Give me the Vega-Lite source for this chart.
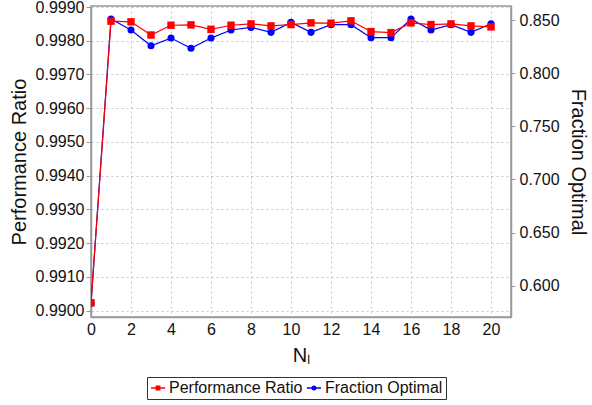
{
  "$schema": "https://vega.github.io/schema/vega-lite/v6.json",
  "width": 420,
  "height": 311,
  "autosize": {"type": "none"},
  "padding": {"left": 91, "top": 6, "right": 81, "bottom": 88},
  "background": "white",
  "config": {
    "font": "Liberation Sans",
    "view": {"stroke": "#999999", "strokeWidth": 1.5},
    "axis": {
      "labelFont": "Liberation Sans",
      "titleFont": "Liberation Sans",
      "labelFontSize": 16,
      "titleFontSize": 20,
      "titleFontWeight": "normal",
      "labelColor": "#111111",
      "titleColor": "#111111",
      "domainColor": "#999999",
      "domainWidth": 1.5,
      "tickColor": "#999999",
      "gridColor": "#c4c4c4",
      "gridDash": [2, 3],
      "gridWidth": 1
    }
  },
  "datasets": {
    "pts": [
      {"N": 0, "series": "Performance Ratio", "value": 0.99023},
      {"N": 1, "series": "Performance Ratio", "value": 0.99858},
      {"N": 2, "series": "Performance Ratio", "value": 0.99856},
      {"N": 3, "series": "Performance Ratio", "value": 0.99817},
      {"N": 4, "series": "Performance Ratio", "value": 0.99846},
      {"N": 5, "series": "Performance Ratio", "value": 0.99847},
      {"N": 6, "series": "Performance Ratio", "value": 0.99834},
      {"N": 7, "series": "Performance Ratio", "value": 0.99846},
      {"N": 8, "series": "Performance Ratio", "value": 0.9985},
      {"N": 9, "series": "Performance Ratio", "value": 0.99844},
      {"N": 10, "series": "Performance Ratio", "value": 0.99848},
      {"N": 11, "series": "Performance Ratio", "value": 0.99853},
      {"N": 12, "series": "Performance Ratio", "value": 0.99852},
      {"N": 13, "series": "Performance Ratio", "value": 0.99859},
      {"N": 14, "series": "Performance Ratio", "value": 0.99827},
      {"N": 15, "series": "Performance Ratio", "value": 0.99824},
      {"N": 16, "series": "Performance Ratio", "value": 0.99853},
      {"N": 17, "series": "Performance Ratio", "value": 0.99848},
      {"N": 18, "series": "Performance Ratio", "value": 0.9985},
      {"N": 19, "series": "Performance Ratio", "value": 0.99844},
      {"N": 20, "series": "Performance Ratio", "value": 0.99841},
      {"N": 0, "series": "Fraction Optimal", "value": 0.5835},
      {"N": 1, "series": "Fraction Optimal", "value": 0.851},
      {"N": 2, "series": "Fraction Optimal", "value": 0.8406},
      {"N": 3, "series": "Fraction Optimal", "value": 0.8258},
      {"N": 4, "series": "Fraction Optimal", "value": 0.833},
      {"N": 5, "series": "Fraction Optimal", "value": 0.8234},
      {"N": 6, "series": "Fraction Optimal", "value": 0.833},
      {"N": 7, "series": "Fraction Optimal", "value": 0.8406},
      {"N": 8, "series": "Fraction Optimal", "value": 0.843},
      {"N": 9, "series": "Fraction Optimal", "value": 0.8384},
      {"N": 10, "series": "Fraction Optimal", "value": 0.8478},
      {"N": 11, "series": "Fraction Optimal", "value": 0.8384},
      {"N": 12, "series": "Fraction Optimal", "value": 0.8456},
      {"N": 13, "series": "Fraction Optimal", "value": 0.8456},
      {"N": 14, "series": "Fraction Optimal", "value": 0.8334},
      {"N": 15, "series": "Fraction Optimal", "value": 0.8334},
      {"N": 16, "series": "Fraction Optimal", "value": 0.851},
      {"N": 17, "series": "Fraction Optimal", "value": 0.8406},
      {"N": 18, "series": "Fraction Optimal", "value": 0.8456},
      {"N": 19, "series": "Fraction Optimal", "value": 0.8384},
      {"N": 20, "series": "Fraction Optimal", "value": 0.8465}
    ]
  },
  "data": {"name": "pts"},
  "encoding": {
    "x": {
      "field": "N",
      "type": "quantitative",
      "scale": {"domain": [0, 21], "nice": false, "zero": false},
      "axis": {
        "title": "Nₗ",
        "values": [0, 2, 4, 6, 8, 10, 12, 14, 16, 18, 20],
        "format": "d",
        "ticks": false,
        "labelFlush": false,
        "labelPadding": 4,
        "titlePadding": 8,
        "grid": true
      }
    }
  },
  "layer": [
    {
      "transform": [{"filter": "datum.series === 'Fraction Optimal'"}],
      "encoding": {
        "y": {
          "field": "value",
          "type": "quantitative",
          "scale": {"domain": [0.5705, 0.8632], "nice": false, "zero": false},
          "axis": {
            "orient": "right",
            "title": "Fraction Optimal",
            "values": [0.6, 0.65, 0.7, 0.75, 0.8, 0.85],
            "format": ".3f",
            "grid": false,
            "tickSize": 4,
            "labelPadding": 4,
            "titlePadding": 8
          }
        },
        "color": {
          "field": "series",
          "type": "nominal",
          "scale": {"domain": ["Performance Ratio", "Fraction Optimal"], "range": ["#ff0000", "#0000ff"]}
        }
      },
      "layer": [
        {"mark": {"type": "line", "strokeWidth": 1.2, "clip": true}},
        {"mark": {"type": "point", "shape": "circle", "filled": true, "opacity": 1, "size": 50, "clip": true}}
      ]
    },
    {
      "transform": [{"filter": "datum.series === 'Performance Ratio'"}],
      "encoding": {
        "y": {
          "field": "value",
          "type": "quantitative",
          "scale": {"domain": [0.98981, 0.99903], "nice": false, "zero": false},
          "axis": {
            "orient": "left",
            "title": "Performance Ratio",
            "values": [0.99, 0.991, 0.992, 0.993, 0.994, 0.995, 0.996, 0.997, 0.998, 0.999],
            "format": ".4f",
            "grid": true,
            "tickSize": 5,
            "labelPadding": 2,
            "titlePadding": 6
          }
        },
        "color": {
          "field": "series",
          "type": "nominal",
          "scale": {"domain": ["Performance Ratio", "Fraction Optimal"], "range": ["#ff0000", "#0000ff"]}
        }
      },
      "layer": [
        {"mark": {"type": "line", "strokeWidth": 1.2, "clip": true}},
        {"mark": {"type": "point", "shape": "square", "filled": true, "opacity": 1, "size": 55, "clip": true}}
      ]
    },
    {
      "encoding": {
        "color": {
          "field": "series",
          "type": "nominal",
          "scale": {"domain": ["Performance Ratio", "Fraction Optimal"], "range": ["#ff0000", "#0000ff"]},
          "legend": {
            "title": null,
            "orient": "none",
            "legendX": 56,
            "legendY": 371,
            "direction": "horizontal",
            "strokeColor": "#333333",
            "padding": 3,
            "labelFontSize": 16,
            "labelFont": "Liberation Sans",
            "labelColor": "#111111",
            "symbolSize": 200,
            "symbolStrokeWidth": 1.5,
            "symbolOpacity": 1,
            "columnPadding": 0,
            "labelOffset": 3
          }
        },
        "shape": {
          "field": "series",
          "type": "nominal",
          "scale": {"domain": ["Performance Ratio", "Fraction Optimal"], "range": ["M-1,0H1M-0.24,-0.24H0.24V0.24H-0.24Z", "M-1,0H1M0.25,0A0.25,0.25,0,1,1,-0.25,0A0.25,0.25,0,1,1,0.25,0Z"]}
        }
      },
      "mark": {"type": "point", "filled": true, "opacity": 0, "size": 1}
    }
  ],
  "resolve": {"scale": {"y": "independent"}}
}
